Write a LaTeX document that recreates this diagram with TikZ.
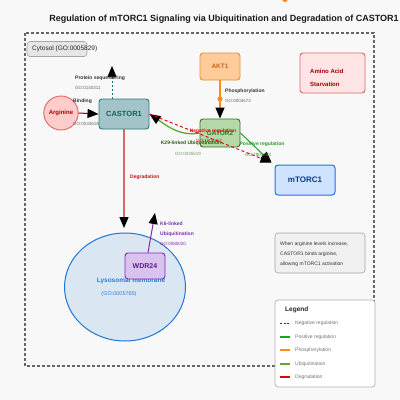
\documentclass[tikz,border=0pt]{standalone}
\usepackage{fontspec}
\setmainfont{Liberation Sans}
\usetikzlibrary{arrows.meta,shapes.geometric}
\newcommand{\myfs}[1]{\fontsize{#1}{#1}\selectfont}
\definecolor{bgc}{HTML}{F8F8F8}
\definecolor{cytfill}{HTML}{E6E6E6}
\definecolor{argfill}{HTML}{FFCCCC}
\definecolor{argdraw}{HTML}{E06666}
\definecolor{argtext}{HTML}{B00000}
\definecolor{casfill}{HTML}{A2C4C9}
\definecolor{casdraw}{HTML}{2B7B7B}
\definecolor{castext}{HTML}{155E5E}
\definecolor{aktfill}{HTML}{FFCC99}
\definecolor{aktdraw}{HTML}{E69138}
\definecolor{akttext}{HTML}{C8651B}
\definecolor{aasfill}{HTML}{FFE5E5}
\definecolor{aastext}{HTML}{A00000}
\definecolor{gatfill}{HTML}{B6D7A8}
\definecolor{gatdraw}{HTML}{38761D}
\definecolor{mtfill}{HTML}{CFE2FF}
\definecolor{mtdraw}{HTML}{1A73E8}
\definecolor{mttext}{HTML}{0B3A8C}
\definecolor{lyfill}{HTML}{DAE6F2}
\definecolor{lydraw}{HTML}{1F77D4}
\definecolor{lytext}{HTML}{2F7FD0}
\definecolor{wdfill}{HTML}{D9C3EE}
\definecolor{wddraw}{HTML}{7B2FA8}
\definecolor{wdtext}{HTML}{5B1E85}
\definecolor{negred}{HTML}{DD1111}
\definecolor{posgreen}{HTML}{22A022}
\definecolor{phosor}{HTML}{FF8C1A}
\definecolor{ubgreen}{HTML}{5AAA2A}
\definecolor{degred}{HTML}{E06666}
\definecolor{seqteal}{HTML}{1A7A7A}
\definecolor{labgray}{HTML}{333333}
\definecolor{gogray}{HTML}{666666}
\tikzset{
  box/.style={rectangle, rounded corners=3pt, line width=0.9pt, inner sep=0pt},
  blacktip/.style={-{Triangle[length=11pt,width=9pt,color=black,fill=black]}},
  lab/.style={inner sep=0pt, font=\myfs{5}\bfseries, text=labgray},
  golab/.style={inner sep=0pt, font=\myfs{4.5}, text=gogray},
}
\begin{document}
\begin{tikzpicture}[x=1pt,y=-1pt]
\useasboundingbox (0,0) rectangle (400,400);
\fill[bgc] (0,0) rectangle (400,400);
\fill[phosor] (285,-1) circle (3);
% title
\node[inner sep=0pt, font=\myfs{9}\bfseries, text=black!90] (title) at (224,19) {Regulation of mTORC1 Signaling via Ubiquitination and Degradation of CASTOR1};
% cytosol outer box
\draw[gray!80!black, line width=1.1pt, dash pattern=on 3pt off 2pt] (25,33) rectangle (374,366);
\node[box, fill=cytfill, draw=gray!70, line width=0.6pt, minimum width=60pt, minimum height=15pt] (cyt) at (57,49) {};
\node[inner sep=0pt, anchor=west, font=\myfs{6.5}, text=black!85] (cytt) at (32,49) {Cytosol (GO:0005829)};
% nodes
\node[ellipse, fill=argfill, draw=argdraw, line width=0.9pt, minimum width=26pt, minimum height=34pt, inner sep=0pt, font=\myfs{6}\bfseries, text=argtext] (arg) at (61,113) {Arginine};
\node[box, fill=casfill, draw=casdraw, minimum width=50pt, minimum height=30pt, font=\myfs{7.5}\bfseries, text=castext] (castor) at (124,114) {CASTOR1};
\node[box, fill=aktfill, draw=aktdraw, minimum width=40pt, minimum height=27pt, font=\myfs{6.5}\bfseries, text=akttext] (akt) at (220,66.5) {AKT1};
\node[box, fill=aasfill, draw=argdraw, minimum width=65pt, minimum height=40pt] (aas) at (332.5,73) {};
\node[inner sep=0pt, anchor=west, font=\myfs{6}\bfseries, text=aastext] (aas1) at (310,71) {Amino Acid};
\node[inner sep=0pt, anchor=west, font=\myfs{6}\bfseries, text=aastext] (aas2) at (310,84) {Starvation};
\node[box, fill=gatfill, draw=gatdraw, minimum width=40pt, minimum height=28pt, font=\myfs{6.5}\bfseries, text=gatdraw] (gator) at (220,133) {GATOR2};
\node[box, fill=mtfill, draw=mtdraw, line width=1pt, minimum width=60pt, minimum height=30pt, font=\myfs{8}\bfseries, text=mttext] (mtorc) at (305,180) {mTORC1};
\node[ellipse, fill=lyfill, draw=lydraw, line width=1pt, minimum width=121pt, minimum height=108pt, inner sep=0pt] (lyso) at (125,287) {};
\node[inner sep=0pt, font=\myfs{6.5}\bfseries, text=lytext] (lysot) at (131,281) {Lysosomal membrane};
\node[inner sep=0pt, font=\myfs{5.5}, text=lytext] (lysogo) at (119,294) {(GO:0005765)};
\node[box, fill=wdfill, draw=wddraw, minimum width=40pt, minimum height=26pt, font=\myfs{7}\bfseries, text=wdtext] (wdr) at (145,266) {WDR24};
% info box
\node[box, fill=gray!12, draw=gray!70, line width=0.6pt, minimum width=90pt, minimum height=40pt] (info) at (320,253) {};
\node[inner sep=0pt, anchor=west, font=\myfs{5}, text=labgray] (inf1) at (280,244) {When arginine levels increase,};
\node[inner sep=0pt, anchor=west, font=\myfs{5}, text=labgray] (inf2) at (280,254) {CASTOR1 binds arginine,};
\node[inner sep=0pt, anchor=west, font=\myfs{5}, text=labgray] (inf3) at (280,264) {allowing mTORC1 activation};
% coordinates
\coordinate (seqtip) at (112,66);
\coordinate (degtip) at (124,228);
\coordinate (k6tip) at (155,213);
% edges
\draw[argtext!80!black, line width=1pt, blacktip] (arg.east) -- (castor.west);
\draw[seqteal, line width=1pt, dash pattern=on 2pt off 2pt, blacktip] (castor.north -| seqtip) -- (seqtip);
\draw[phosor, line width=1.3pt, blacktip] (akt.south) -- (gator.north);
\fill[phosor] (220,99) circle (2.6);
\draw[degred, line width=1.3pt, blacktip] (castor.south) -- (degtip);
\draw[wddraw, line width=1pt, blacktip] ([xshift=3pt]wdr.north) -- (k6tip);
\draw[ubgreen, line width=1.3pt, blacktip] (gator.west) .. controls +(-20,4) and +(15,10) .. (castor.east);
\draw[negred, line width=1pt, dash pattern=on 3pt off 2.5pt, blacktip] (castor.east) -- ([shift={(-3pt,2pt)}]mtorc.north west);
\draw[posgreen, line width=1pt, blacktip] (gator.east) -- ([shift={(-3pt,2pt)}]mtorc.north west);
% edge labels
\node[lab, anchor=west] (lbind) at (73,101) {Binding};
\node[golab, anchor=west] (gbind) at (73,124) {GO:0034618};
\node[lab, anchor=west] (lseq) at (75,78) {Protein sequestering};
\node[golab, anchor=west] (gseq) at (75,88) {GO:0140311};
\node[lab, anchor=west] (lphos) at (225,91) {Phosphorylation};
\node[golab, anchor=west] (gphos) at (225,101) {GO:0004674};
\node[lab, text=negred] (lneg) at (213,131) {Negative regulation};
\node[golab, text=negred] (gneg) at (209,141) {GO:1904262};
\node[lab, text=posgreen] (lpos) at (262,144) {Positive regulation};
\node[golab, text=posgreen] (gpos) at (258,155) {GO:1904263};
\node[lab, text=gatdraw!80!black] (lk29) at (191,143) {K29-linked Ubiquitination};
\node[golab, text=gatdraw!70] (gk29) at (188,154) {GO:0035519};
\node[lab, anchor=west, text=negred!90!black] (ldeg) at (130,177) {Degradation};
\node[lab, anchor=west, text=wddraw] (lk6a) at (160,224) {K6-linked};
\node[lab, anchor=west, text=wddraw] (lk6b) at (160,234) {Ubiquitination};
\node[golab, anchor=west, text=wddraw] (gk6) at (160,244) {GO:0085020};
% legend
\node[box, fill=white, draw=gray!60, line width=0.7pt, minimum width=100pt, minimum height=87pt] (legend) at (325,343.5) {};
\node[inner sep=0pt, anchor=west, font=\myfs{6.5}\bfseries, text=black!85] (legt) at (285,310) {Legend};
\coordinate (l1a) at (280,323); \coordinate (l1b) at (290,323);
\coordinate (l2a) at (280,337); \coordinate (l2b) at (290,337);
\coordinate (l3a) at (280,350); \coordinate (l3b) at (290,350);
\coordinate (l4a) at (280,364); \coordinate (l4b) at (290,364);
\coordinate (l5a) at (280,377); \coordinate (l5b) at (290,377);
\draw[red!65!black, line width=1pt, dash pattern=on 2pt off 1.5pt] (l1a) -- (l1b);
\draw[posgreen, line width=1.2pt] (l2a) -- (l2b);
\draw[phosor, line width=1.2pt] (l3a) -- (l3b);
\draw[ubgreen, line width=1.2pt] (l4a) -- (l4b);
\draw[red!90!black, line width=1.2pt] (l5a) -- (l5b);
\node[inner sep=0pt, anchor=west, font=\myfs{5}, text=gray!90!black] (t1) at (295,323) {Negative regulation};
\node[inner sep=0pt, anchor=west, font=\myfs{5}, text=gray!90!black] (t2) at (295,337) {Positive regulation};
\node[inner sep=0pt, anchor=west, font=\myfs{5}, text=gray!90!black] (t3) at (295,350) {Phosphorylation};
\node[inner sep=0pt, anchor=west, font=\myfs{5}, text=gray!90!black] (t4) at (295,364) {Ubiquitination};
\node[inner sep=0pt, anchor=west, font=\myfs{5}, text=gray!90!black] (t5) at (295,377) {Degradation};
\end{tikzpicture}
\end{document}
